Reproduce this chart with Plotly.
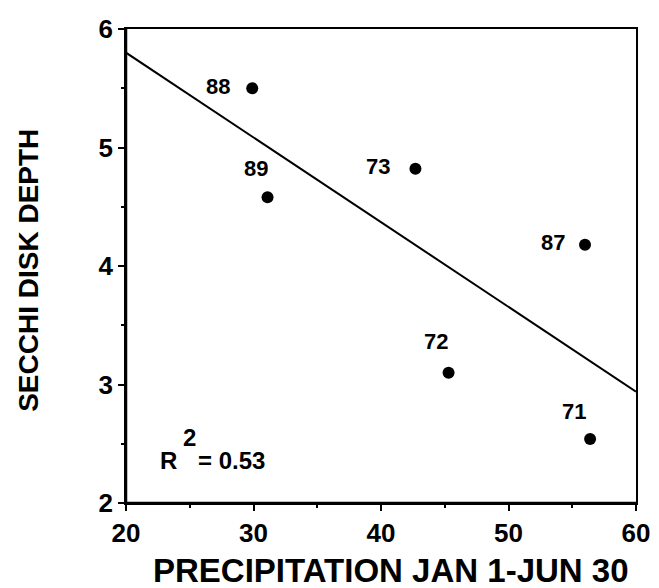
import plotly.graph_objects as go

# Data
years = ["88", "89", "73", "87", "72", "71"]
precip = [29.9, 31.1, 42.7, 56.0, 45.3, 56.4]
secchi = [5.50, 4.58, 4.82, 4.18, 3.10, 2.54]

fit_x = [20, 60]
fit_y = [5.80, 2.94]

x_ticks = [20, 30, 40, 50, 60]
y_ticks = [2, 3, 4, 5, 6]

x_title = "PRECIPITATION JAN 1-JUN 30"
y_title = "SECCHI DISK DEPTH"

# label offsets (pixels) relative to each point
label_dx = [-34, -12, -37, -32, -13, -16]
label_dy = [-2, -29, -2, -2, -31, -28]

FONT = "Liberation Sans, Arial, sans-serif"

fig = go.Figure()
fig.add_trace(go.Scatter(x=fit_x, y=fit_y, mode="lines",
                         line=dict(color="black", width=2), hoverinfo="skip"))
fig.add_trace(go.Scatter(x=precip, y=secchi, mode="markers",
                         marker=dict(color="black", size=12)))

for yr, px, py, dx, dy in zip(years, precip, secchi, label_dx, label_dy):
    fig.add_annotation(x=px, y=py, text=f"<b>{yr}</b>", showarrow=False,
                       xshift=dx, yshift=-dy,
                       font=dict(family=FONT, size=22, color="black"))

fig.add_annotation(x=23.33, y=2.355, text="<b>R</b>", showarrow=False,
                   font=dict(family=FONT, size=24, color="black"))
fig.add_annotation(x=24.95, y=2.55, text="<b>2</b>", showarrow=False,
                   font=dict(family=FONT, size=24, color="black"))
fig.add_annotation(x=25.5, y=2.355, text="<b>= 0.53</b>", showarrow=False,
                   xanchor="left",
                   font=dict(family=FONT, size=24, color="black"))

# axis titles
fig.add_annotation(xref="paper", yref="paper", x=0.52, y=-0.143,
                   text=f"<b>{x_title}</b>", showarrow=False,
                   xanchor="center", yanchor="middle",
                   font=dict(family=FONT, size=33, color="black"))
fig.add_annotation(xref="paper", yref="paper", x=-0.19, y=0.49,
                   text=f"<b>{y_title}</b>", showarrow=False, textangle=-90,
                   xanchor="center", yanchor="middle",
                   font=dict(family=FONT, size=28, color="black"))

axis_common = dict(
    showgrid=False, zeroline=False, showline=True, linecolor="black",
    linewidth=1.5, mirror=True, ticks="outside", ticklen=6, tickwidth=2,
    tickcolor="black", automargin=False,
    tickfont=dict(family=FONT, size=26, color="black"),
)

fig.update_xaxes(range=[20, 60], tickvals=x_ticks,
                 ticktext=[f"<b>{v}</b>" for v in x_ticks],
                 minor=dict(dtick=5, ticks="outside", ticklen=3, tickwidth=1.5,
                            tickcolor="black", showgrid=False),
                 **axis_common)
fig.update_yaxes(range=[2, 6], tickvals=y_ticks,
                 ticktext=[f"<b>{v}</b>" for v in y_ticks],
                 minor=dict(dtick=0.5, ticks="outside", ticklen=3, tickwidth=1.5,
                            tickcolor="black", showgrid=False),
                 **axis_common)

# heavier left and bottom frame lines
fig.add_shape(type="line", xref="paper", yref="paper", x0=0, x1=0, y0=0, y1=1,
              line=dict(color="black", width=2.5))
fig.add_shape(type="line", xref="paper", yref="paper", x0=0, x1=1, y0=0, y1=0,
              line=dict(color="black", width=2.5))

fig.update_layout(
    width=659, height=588,
    margin=dict(l=118, r=31, t=21, b=93),
    paper_bgcolor="white", plot_bgcolor="white",
    showlegend=False,
)

fig.write_html("out.html")
